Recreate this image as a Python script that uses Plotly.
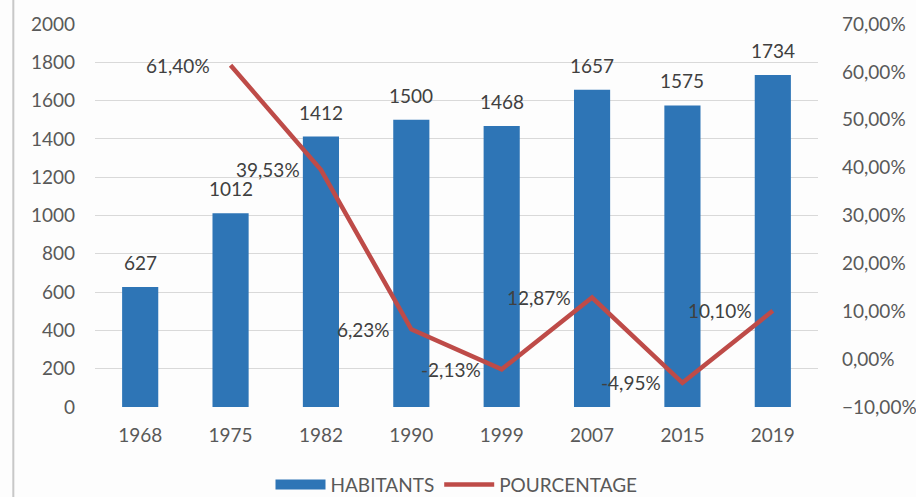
import plotly.graph_objects as go

years = ["1968", "1975", "1982", "1990", "1999", "2007", "2015", "2019"]
habitants = [627, 1012, 1412, 1500, 1468, 1657, 1575, 1734]
pct_years = ["1975", "1982", "1990", "1999", "2007", "2015", "2019"]
pourcentage = [61.40, 39.53, 6.23, -2.13, 12.87, -4.95, 10.10]

FONT = "Lato, 'Open Sans', sans-serif"
GRAY = "#595959"
TXT = "#404040"
BLUE = "#2E75B6"
RED = "#BE4B48"
FS = 19

fig = go.Figure()
fig.add_trace(go.Bar(
    x=years, y=habitants, name="HABITANTS", showlegend=False,
    marker=dict(color=BLUE, line=dict(width=0)),
))
# value labels above bars
for xv, yv in zip(years, habitants):
    fig.add_annotation(
        x=years.index(xv), y=yv, xref="x", yref="y",
        text=str(yv), showarrow=False, xanchor="center", yanchor="bottom",
        yshift=11, font=dict(size=FS, color=TXT, family=FONT),
    )
# legend entry styled like the reference's wide bar swatch
fig.add_trace(go.Scatter(
    x=[years[0]], y=[None], name="HABITANTS", mode="lines",
    line=dict(color=BLUE, width=11),
))
fig.add_trace(go.Scatter(
    x=pct_years, y=pourcentage, name="POURCENTAGE", yaxis="y2",
    mode="lines", line=dict(color=RED, width=4.5),
    cliponaxis=False,
))
for xv, yv in zip(pct_years, pourcentage):
    fig.add_annotation(
        x=years.index(xv), y=yv, xref="x", yref="y2",
        text=f"{yv:.2f}%".replace(".", ","),
        showarrow=False, xanchor="right", yanchor="middle", xshift=-19,
        font=dict(size=FS, color=TXT, family=FONT),
    )

fig.update_layout(
    width=916, height=497,
    margin=dict(l=95, r=98, t=24, b=90),
    paper_bgcolor="#fdfdfd", plot_bgcolor="#fdfdfd",
    separators=", ",
    font=dict(family=FONT, size=FS, color=GRAY),
    bargap=0.6,
    showlegend=True,
    legend=dict(orientation="h", x=0.5, xanchor="center",
                yref="container", y=0.025, yanchor="middle",
                font=dict(size=FS, color=GRAY), itemwidth=50,
                bgcolor="rgba(0,0,0,0)"),
    xaxis=dict(type="category", categoryorder="array", categoryarray=years,
               range=[-0.5, len(years) - 0.5], automargin=False,
               showgrid=False, zeroline=False, showline=False,
               ticks="", tickfont=dict(size=FS, color=GRAY), ticklabelstandoff=15),
    yaxis=dict(range=[0, 2000], dtick=200, showgrid=True, gridcolor="#d9d9d9",
               gridwidth=1, zeroline=False, showline=False, automargin=False,
               tickfont=dict(size=FS, color=GRAY), ticklabelstandoff=19),
    yaxis2=dict(range=[-10, 70], dtick=10, overlaying="y", side="right",
                showgrid=False, zeroline=False, showline=False, automargin=False,
                tickformat=".2f", ticksuffix="%",
                tickfont=dict(size=FS, color=GRAY), ticklabelstandoff=23),
)
fig.add_shape(type="line", xref="paper", yref="paper", x0=-0.113, x1=-0.113,
              y0=-0.25, y1=1.07, line=dict(color="#c8c8c8", width=2))

fig.write_html("out.html", config={"displayModeBar": False},
               post_script="document.body.style.margin='0';")
